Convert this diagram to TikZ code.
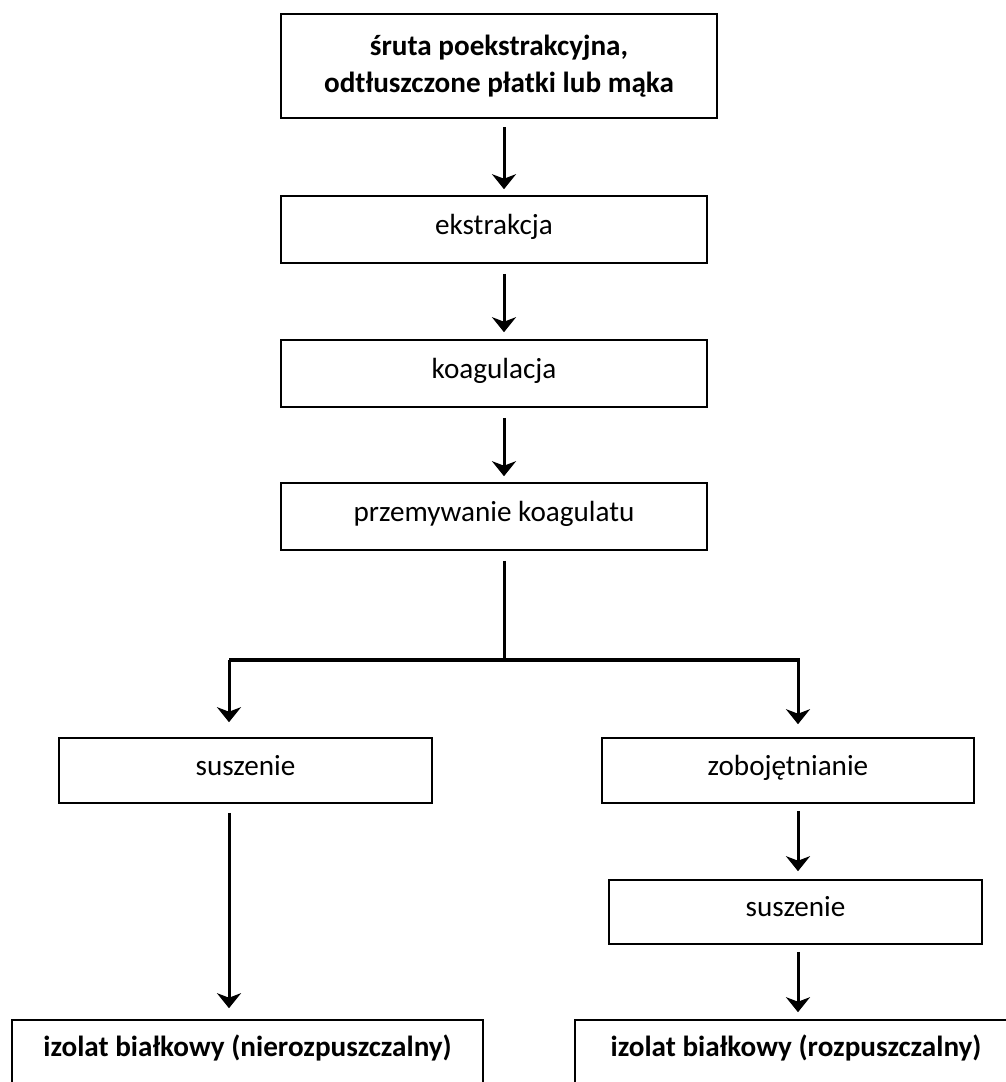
\documentclass[tikz,border=0pt]{standalone}
\usepackage{fontspec}
\setmainfont{Carlito}
\usepackage{tikz}
\usetikzlibrary{positioning,arrows.meta,calc}

\tikzset{
	box/.style={draw,line width=0.032cm,inner sep=0pt,align=center,font=\fontsize{16.6}{21}\selectfont},
	oneline/.style={box,text height=0.70em,text depth=0.18em},
	arr/.style={-{Stealth[length=0.3cm,width=0.48cm,inset=0.09cm]},line width=0.06cm},
}

\begin{document}
\begin{tikzpicture}[x=0.02cm,y=-0.02cm,>=Stealth]
		
		\clip (0,0) rectangle (1006,1082);
		
		% Main column
		\node[box,line width=0.04cm,minimum width=436*0.02cm,minimum height=104*0.02cm,font=\fontsize{16.6}{21}\selectfont\bfseries]
		(raw) at (499,66) {śruta poekstrakcyjna,\\odtłuszczone płatki lub mąka};
		
		\node[oneline,minimum width=426*0.02cm,minimum height=67*0.02cm] (ekstr) at (494,229.5) {ekstrakcja};
		
		\node[oneline,minimum width=426*0.02cm,minimum height=67*0.02cm] (koag) at (494,373.5) {koagulacja};
		
		\node[oneline,minimum width=426*0.02cm,minimum height=67*0.02cm] (przem) at (494,516.5) {przemywanie koagulatu};
		
		% Two branches
		\node[oneline,minimum width=373*0.02cm,minimum height=65*0.02cm] (suszL) at (245.5,770.5) {suszenie};
		
		\node[oneline,minimum width=372*0.02cm,minimum height=65*0.02cm] (zob) at (788,770.5) {zobojętnianie};
		
		\node[oneline,minimum width=373*0.02cm,minimum height=64*0.02cm] (suszR) at (795.5,912) {suszenie};
		
		% Products
		\node[oneline,minimum width=471*0.02cm,minimum height=64*0.02cm,font=\fontsize{16.6}{21}\selectfont\bfseries]
		(izolN) at (247.5,1052) {izolat białkowy (nierozpuszczalny)};
		
		\node[oneline,minimum width=442*0.02cm,minimum height=64*0.02cm,font=\fontsize{16.6}{21}\selectfont\bfseries]
		(izolR) at (796,1052) {izolat białkowy (rozpuszczalny)};
		
		% Arrows
		\coordinate (ax) at (504,0);
		\coordinate (junc) at (504,660);
		\coordinate (jl) at (229,660);
		\coordinate (jr) at (800,660);
		
		\draw[arr,shorten <=0.16cm,shorten >=0.12cm] (raw.south -| ax)--(ekstr.north -| ax);
		\draw[arr,shorten <=0.2cm,shorten >=0.14cm] (ekstr.south -| ax)--(koag.north -| ax);
		\draw[arr,shorten <=0.2cm,shorten >=0.12cm] (koag.south -| ax)--(przem.north -| ax);
		
		\draw[line width=0.06cm,shorten <=0.2cm] (przem.south -| ax)--(junc);
		\draw[line width=0.08cm] (jl)--(jr);
		
		\draw[arr,shorten >=0.3cm] (jl)--(suszL.north -| jl);
		\draw[arr,shorten <=0.04cm,shorten >=0.26cm] (798,660)--(zob.north -| 798,0);
		
		\draw[arr,shorten <=0.18cm,shorten >=0.22cm] (suszL.south -| jl)--(izolN.north -| jl);
		\draw[arr,shorten <=0.14cm,shorten >=0.16cm] (zob.south -| 798,0)--(suszR.north -| 798,0);
		\draw[arr,shorten <=0.14cm,shorten >=0.14cm] (suszR.south -| 798,0)--(izolR.north -| 798,0);
		
	\end{tikzpicture}
\end{document}
